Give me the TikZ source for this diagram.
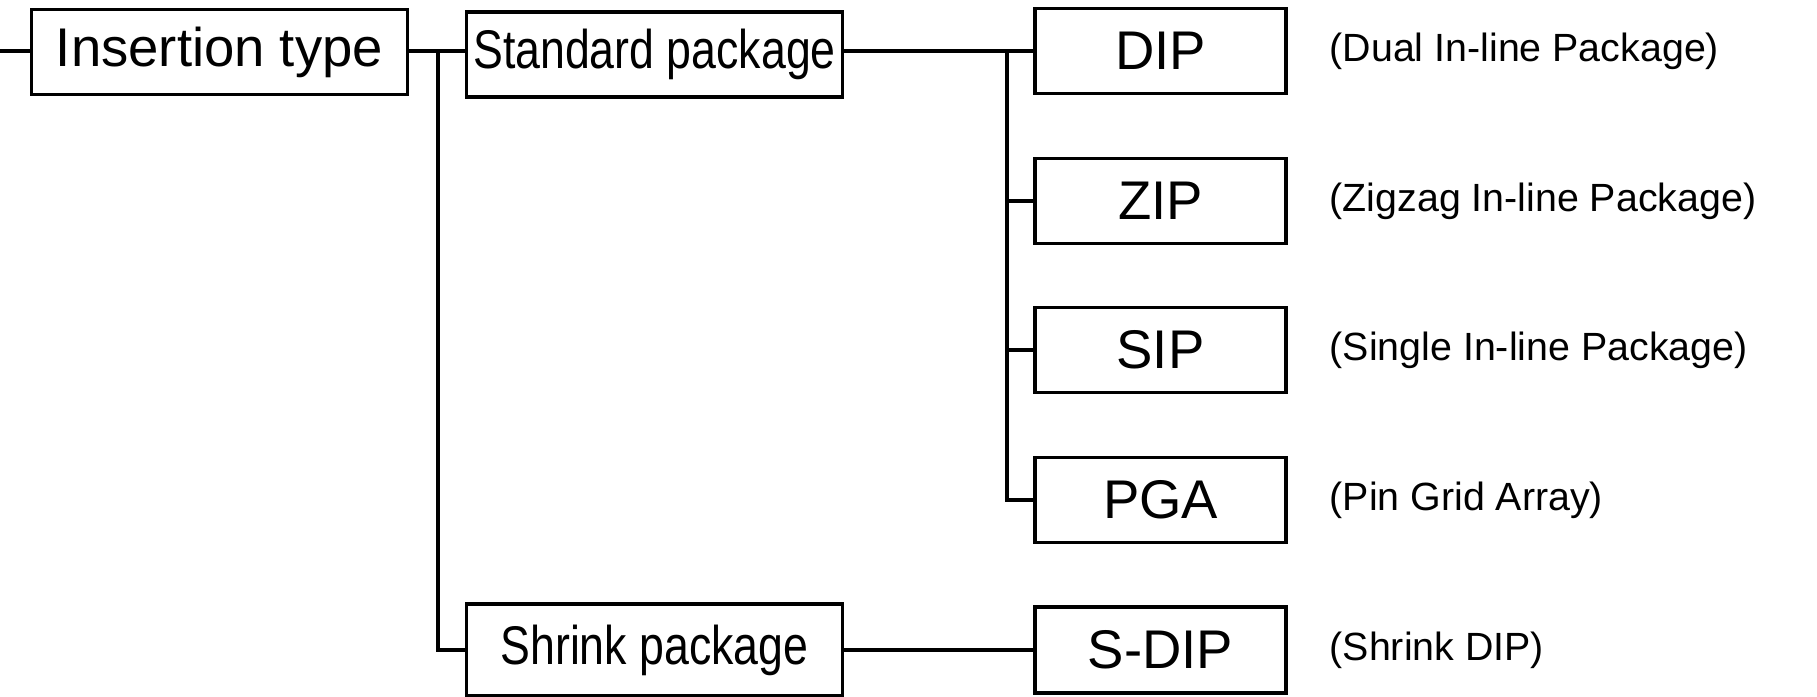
\documentclass[tikz,border=0pt]{standalone}
\usepackage{fontspec}
\setmainfont{Liberation Sans}
\newfontfamily\narrowfont{Liberation Sans}[FakeStretch=0.82]
\usetikzlibrary{positioning}

\begin{document}
\begin{tikzpicture}[
    node distance=0.41cm,
    box/.style={draw, line width=1.1pt, minimum width=2.51cm, minimum height=0.85cm, inner sep=0pt, font=\fontsize{15.5}{18}\selectfont},
    wide/.style={box, minimum width=3.76cm},
    squeezed/.style={font=\narrowfont\fontsize{15.5}{18}\selectfont},
    note/.style={inner sep=0pt, font=\fontsize{11.2}{13}\selectfont},
    link/.style={line width=1.05pt}
]
\useasboundingbox (0,0) rectangle (18.17,-6.96);
% first and second level
\node[wide] (ins) at (2.195,-0.52) {Insertion type};
\node[wide, squeezed] (std) at (6.545,-0.545) {Standard package};
\node[wide, squeezed, minimum height=0.92cm] (shr) at (6.545,-6.50) {Shrink package};
% package types
\node[box] (dip) at (11.605,-0.51) {DIP};
\node[box] (zip) at (11.605,-2.01) {ZIP};
\node[box] (sip) at (11.605,-3.50) {SIP};
\node[box] (pga) at (11.605,-5.00) {PGA};
\node[box, minimum height=0.86cm] (sdip) at (11.605,-6.50) {S-DIP};
% full names
\node[note, right=of dip] (dipl) {(Dual In-line Package)};
\node[note, right=of zip] (zipl) {(Zigzag In-line Package)};
\node[note, right=of sip] (sipl) {(Single In-line Package)};
\node[note, right=of pga] (pgal) {(Pin Grid Array)};
\node[note, right=of sdip] (sdipl) {(Shrink DIP)};
% connectors
\coordinate (start) at (0,-0.51);
\coordinate (j1) at (4.38,-0.51);
\coordinate (j2) at (10.07,-0.51);
\draw[link] (start) -- (start -| ins.west);
\draw[link] (start -| ins.east) -- (start -| std.west);
\draw[link] (j1) |- (shr.west);
\draw[link] (std.east |- dip.west) -- (dip.west);
\draw[link] (j2) |- (zip.west);
\draw[link] (j2) |- (sip.west);
\draw[link] (j2) |- (pga.west);
\draw[link] (shr.east) -- (sdip.west);
\end{tikzpicture}
\end{document}
